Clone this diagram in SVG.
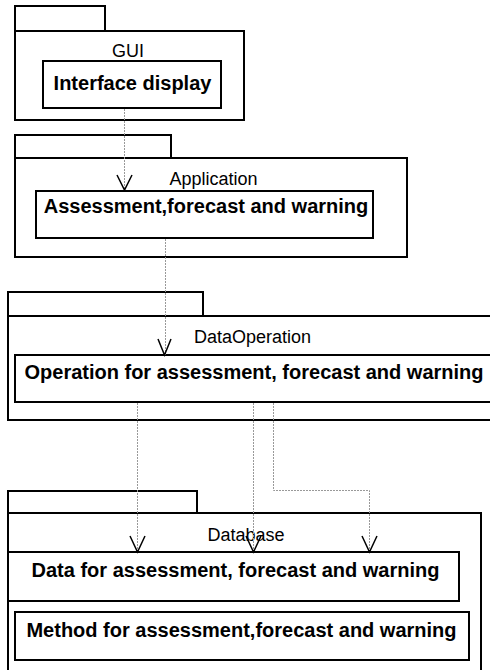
<svg xmlns="http://www.w3.org/2000/svg" width="490" height="670" viewBox="0 0 490 670">
<style>
.box{fill:#fff;stroke:#000;stroke-width:2}
.lbl{font-family:"Liberation Sans",Arial,sans-serif;font-size:18px;fill:#000;text-anchor:middle}
.bold{font-family:"Liberation Sans",Arial,sans-serif;font-size:20px;font-weight:bold;fill:#000;text-anchor:middle}
.dep{fill:none;stroke:#999;stroke-width:1;stroke-dasharray:2 1}
.head{fill:none;stroke:#000;stroke-width:1.5}
</style>
<rect width="490" height="670" fill="#fff"/>
<g id="GUI">
<rect class="box" x="15" y="6" width="90" height="25"/>
<rect class="box" x="15" y="31" width="229" height="89"/>
<text class="lbl" x="128" y="57">GUI</text>
<g id="InterfaceDisplay">
<rect class="box" x="43" y="61" width="178" height="47"/>
<text class="bold" x="132.5" y="90">Interface display</text>
</g>
</g>
<g id="Application">
<rect class="box" x="15" y="135" width="156" height="23"/>
<rect class="box" x="15" y="158" width="392" height="99"/>
<text class="lbl" x="213.5" y="185">Application</text>
<g id="Assessment">
<rect class="box" x="36" y="191" width="337" height="47"/>
<text class="bold" x="206" y="213">Assessment,forecast and warning</text>
</g>
</g>
<g id="DataOperation">
<rect class="box" x="8" y="292" width="195" height="24"/>
<rect class="box" x="8" y="316" width="490" height="104"/>
<text class="lbl" x="252.5" y="343">DataOperation</text>
<g id="Operation">
<rect class="box" x="15" y="355" width="480" height="47"/>
<text class="bold" x="254" y="379">Operation for assessment, forecast and warning</text>
</g>
</g>
<g id="Database">
<rect class="box" x="8" y="491" width="189" height="22"/>
<rect class="box" x="8" y="513" width="473" height="170"/>
<text class="lbl" x="246" y="541">Database</text>
<g id="Data">
<rect class="box" x="8" y="552" width="451" height="49"/>
<text class="bold" x="235.5" y="577">Data for assessment, forecast and warning</text>
</g>
<g id="Method">
<rect class="box" x="15" y="612" width="454" height="48"/>
<text class="bold" x="241.5" y="637">Method for assessment,forecast and warning</text>
</g>
</g>
<g id="connectors">
<path class="dep" d="M124.5 109V190"/>
<path class="head" d="M117 175L124.5 190L132 175"/>
<path class="dep" d="M165.5 239V355"/>
<path class="head" d="M158 339L164.5 355L171 339"/>
<path class="dep" d="M137.5 403V552"/>
<path class="head" d="M130 536L137.5 552L145 536"/>
<path class="dep" d="M253.5 403V552"/>
<path class="head" d="M246 536L253.5 552L261 536"/>
<path class="dep" d="M273.5 403V490.5H369.5V552"/>
<path class="head" d="M362 536L369.5 552L377 536"/>
</g>
</svg>
